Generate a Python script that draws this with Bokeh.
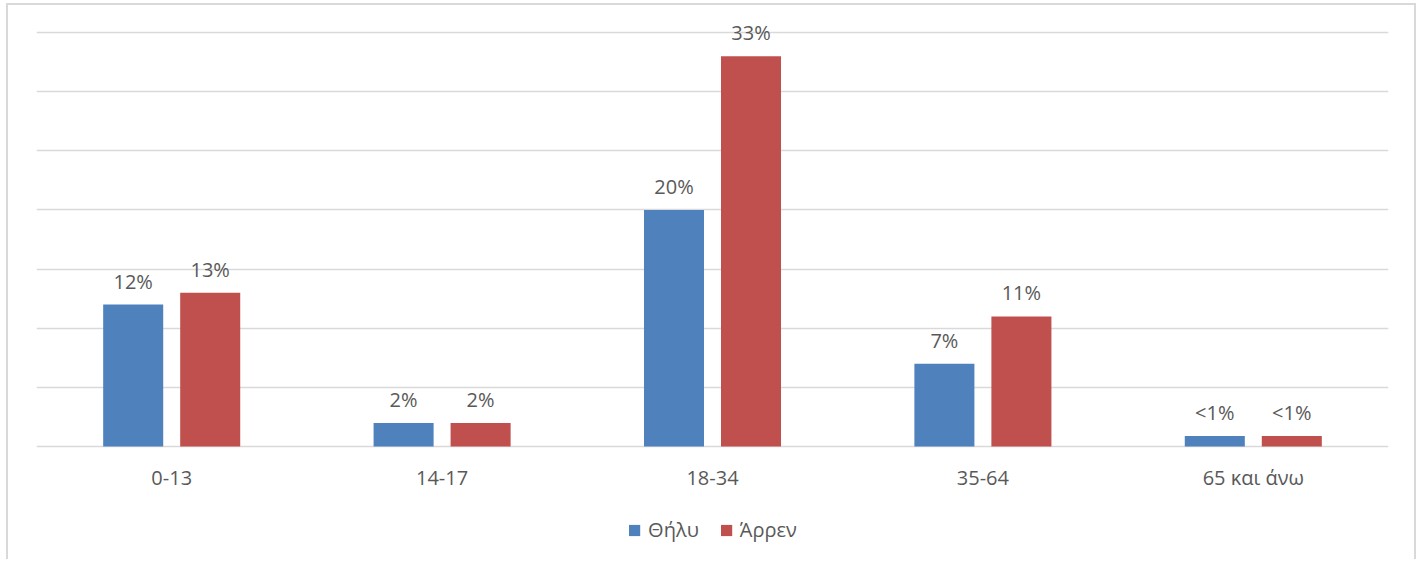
from bokeh.plotting import figure
from bokeh.models import ColumnDataSource, FactorRange, Range1d, Legend, LegendItem, LabelSet, FixedTicker
from bokeh.transform import dodge
from bokeh.embed import file_html
from bokeh.resources import INLINE
from bokeh.core.properties import value

categories = ["0-13", "14-17", "18-34", "35-64", "65 και άνω"]
female = [12, 2, 20, 7, 0.9]
male = [13, 2, 33, 11, 0.9]
female_labels = ["12%", "2%", "20%", "7%", "<1%"]
male_labels = ["13%", "2%", "33%", "11%", "<1%"]
series_names = ["Θήλυ", "Άρρεν"]
grid_ticks = [0, 5, 10, 15, 20, 25, 30, 35]

FONT = "Open Sans"
TXT = "#595959"
BLUE = "#4F81BD"
RED = "#C0504D"

src = ColumnDataSource(dict(cat=categories, female=female, male=male,
                            fl=female_labels, ml=male_labels))

p = figure(width=1406, height=556, output_backend="svg", toolbar_location=None,
           x_range=FactorRange(*categories), y_range=Range1d(-9.21, 37.28),
           min_border_left=28, min_border_right=26, min_border_top=0, min_border_bottom=6)
p.outline_line_color = None
p.styles = {"margin-left": "8px", "margin-top": "5px",
            "box-shadow": "-2px -2px 0 0 #d9d9d9, 2px -2px 0 0 #d9d9d9"}

off = 0.1424
bw = 0.222
r1 = p.vbar(x=dodge("cat", -off, range=p.x_range), top="female", bottom=0, width=bw, source=src,
            fill_color=BLUE, line_color=None)
r2 = p.vbar(x=dodge("cat", off, range=p.x_range), top="male", bottom=0, width=bw, source=src,
            fill_color=RED, line_color=None)

for col, lab, o in (("female", "fl", -off), ("male", "ml", off)):
    ls = LabelSet(x=dodge("cat", o, range=p.x_range), y=col, text=lab, source=src,
                  text_align="center", text_baseline="bottom", y_offset=10,
                  text_font=value(FONT), text_font_size="20px", text_color=TXT)
    p.add_layout(ls)

p.yaxis.visible = False
p.xgrid.grid_line_color = None
p.ygrid.ticker = FixedTicker(ticks=grid_ticks)
p.ygrid.grid_line_color = "#d9d9d9"
p.ygrid.grid_line_width = 1.5

xa = p.xaxis[0]
xa.fixed_location = 0
xa.axis_line_color = None
xa.major_tick_line_color = None
xa.minor_tick_line_color = None
xa.major_label_standoff = 11
xa.major_label_text_font = FONT
xa.major_label_text_font_size = "20px"
xa.major_label_text_color = TXT

legend = Legend(items=[LegendItem(label=series_names[0], renderers=[r1]),
                       LegendItem(label=series_names[1], renderers=[r2])],
                orientation="horizontal", location="bottom_center",
                label_text_font=FONT, label_text_font_size="20px", label_text_color=TXT,
                glyph_width=14, glyph_height=14, label_standoff=7, spacing=20,
                padding=0, margin=12, border_line_color=None, background_fill_alpha=0)
p.add_layout(legend)

open("out.html", "w").write(file_html(p, INLINE))
